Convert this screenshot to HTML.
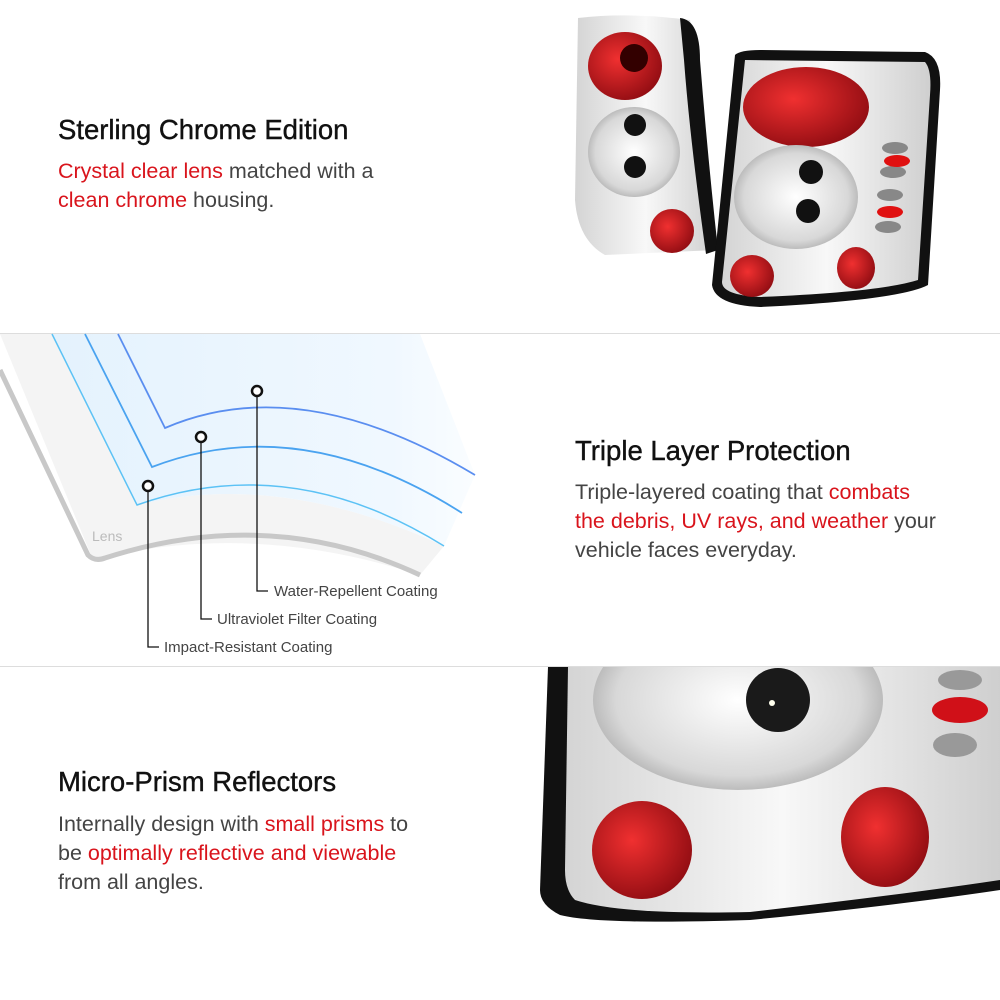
<!DOCTYPE html>
<html><head><meta charset="utf-8"><style>
html,body{margin:0;padding:0;background:#fff}
body{width:1000px;height:1000px;position:relative;overflow:hidden;font-family:"Liberation Sans",sans-serif}
.t{position:absolute;color:#111;font-size:27.5px;-webkit-text-stroke:0.4px #111}
.b{position:absolute;color:#444;font-size:21.5px;line-height:29px}
.r{color:#d9141c}
</style></head><body>
<svg width="1000" height="1000" style="position:absolute;left:0;top:0">
<defs>
<radialGradient id="red" cx="40%" cy="40%" r="70%"><stop offset="0" stop-color="#f03030"/><stop offset="1" stop-color="#8a0a10"/></radialGradient>
<radialGradient id="clr" cx="50%" cy="50%" r="60%"><stop offset="0" stop-color="#fff"/><stop offset="0.7" stop-color="#d8d8d8"/><stop offset="1" stop-color="#999"/></radialGradient>
<linearGradient id="chrome" x1="0" y1="0" x2="1" y2="0"><stop offset="0" stop-color="#d4d4d4"/><stop offset="0.5" stop-color="#f8f8f8"/><stop offset="1" stop-color="#cfcfcf"/></linearGradient>
<linearGradient id="blue" x1="0" y1="0" x2="1" y2="0"><stop offset="0" stop-color="#e4f2fd"/><stop offset="0.8" stop-color="#f0f8ff"/><stop offset="1" stop-color="#fafdff"/></linearGradient>
<clipPath id="bot"><rect x="0" y="667" width="1000" height="333"/></clipPath>
</defs>
<line x1="0" y1="333.5" x2="1000" y2="333.5" stroke="#ddd"/>
<line x1="0" y1="666.5" x2="1000" y2="666.5" stroke="#ddd"/>

<!-- left tail light -->
<path d="M578 18 Q630 12 690 20 Q705 110 716 250 L605 255 Q578 240 575 200 Z" fill="url(#chrome)"/>
<path d="M680 18 Q700 20 700 60 Q708 160 718 250 L706 254 Q690 140 684 60 Z" fill="#111"/>
<ellipse cx="625" cy="66" rx="37" ry="34" fill="url(#red)"/>
<circle cx="634" cy="58" r="14" fill="#300"/>
<ellipse cx="634" cy="152" rx="46" ry="45" fill="url(#clr)"/>
<circle cx="635" cy="125" r="11" fill="#111"/><circle cx="635" cy="167" r="11" fill="#111"/>
<circle cx="672" cy="231" r="22" fill="url(#red)"/>
<!-- right tail light -->
<path d="M735 55 Q740 50 760 50 L925 52 Q942 58 940 90 L928 285 Q900 300 760 307 Q715 305 712 285 Z" fill="#111"/>
<path d="M745 60 L925 62 Q932 70 930 95 L918 280 Q880 292 760 297 Q722 295 722 282 Z" fill="url(#chrome)"/>
<ellipse cx="806" cy="107" rx="63" ry="40" fill="url(#red)"/>
<ellipse cx="796" cy="197" rx="62" ry="52" fill="url(#clr)"/>
<circle cx="811" cy="172" r="12" fill="#111"/><circle cx="808" cy="211" r="12" fill="#111"/>
<ellipse cx="752" cy="276" rx="22" ry="21" fill="url(#red)"/>
<ellipse cx="856" cy="268" rx="19" ry="21" fill="url(#red)"/>
<g fill="#888"><ellipse cx="895" cy="148" rx="13" ry="6"/><ellipse cx="893" cy="172" rx="13" ry="6"/><ellipse cx="890" cy="195" rx="13" ry="6"/><ellipse cx="888" cy="227" rx="13" ry="6"/></g>
<g fill="#e01010"><ellipse cx="897" cy="161" rx="13" ry="6"/><ellipse cx="890" cy="212" rx="13" ry="6"/></g>

<!-- layer diagram -->
<path d="M0 334 L52 334 L137 505 Q280 470 444 546 L420 575 Q250 520 93 560 Z" fill="#f4f4f4"/>
<path d="M0 370 L88 555 Q95 562 105 558 Q270 505 420 575" fill="none" stroke="#c8c8c8" stroke-width="5"/>
<path d="M52 334 L420 334 L475 475 L444 546 Q280 470 137 505 Z" fill="url(#blue)"/>
<path d="M118 334 L165 428 Q300 370 475 475" fill="none" stroke="#5a8ef0" stroke-width="1.8"/>
<path d="M85 334 L152 467 Q300 410 462 513" fill="none" stroke="#4aa3f0" stroke-width="1.8"/>
<path d="M52 334 L137 505 Q290 450 444 546" fill="none" stroke="#5cc2f5" stroke-width="1.5"/>
<text x="92" y="541" font-size="14" fill="#bbb" font-family="Liberation Sans">Lens</text>
<g fill="none" stroke="#111" stroke-width="1.3">
<path d="M257 396 V591 H268"/><path d="M201 442 V619 H212"/><path d="M148 491 V647 H159"/>
</g>
<g fill="#fff" stroke="#111" stroke-width="2.5"><circle cx="257" cy="391" r="5"/><circle cx="201" cy="437" r="5"/><circle cx="148" cy="486" r="5"/></g>
<g font-size="15" fill="#444" font-family="Liberation Sans">
<text x="274" y="596">Water-Repellent Coating</text>
<text x="217" y="624">Ultraviolet Filter Coating</text>
<text x="164" y="652">Impact-Resistant Coating</text>
</g>

<!-- bottom tail light -->
<g clip-path="url(#bot)">
<path d="M548 667 L1000 667 L1000 890 Q900 905 750 920 Q600 925 560 915 Q540 905 540 890 Z" fill="#111"/>
<path d="M568 667 L1000 667 L1000 880 Q900 895 750 912 Q620 915 575 900 Q565 890 565 870 Z" fill="url(#chrome)"/>
<ellipse cx="738" cy="700" rx="145" ry="90" fill="url(#clr)"/>
<circle cx="778" cy="700" r="32" fill="#1a1a1a"/><circle cx="772" cy="703" r="3" fill="#ffe"/>
<ellipse cx="642" cy="850" rx="50" ry="49" fill="url(#red)"/>
<ellipse cx="885" cy="837" rx="44" ry="50" fill="url(#red)"/>
<g fill="#999"><ellipse cx="955" cy="745" rx="22" ry="12"/><ellipse cx="960" cy="680" rx="22" ry="10"/></g>
<ellipse cx="960" cy="710" rx="28" ry="13" fill="#d01018"/>
</g>
</svg>

<div class="t" style="left:58px;top:114px">Sterling Chrome Edition</div>
<div class="b" style="left:58px;top:157px"><span class="r">Crystal clear lens</span> matched with a<br><span class="r">clean chrome</span> housing.</div>

<div class="t" style="left:575px;top:435px">Triple Layer Protection</div>
<div class="b" style="left:575px;top:478px">Triple-layered coating that <span class="r">combats</span><br><span class="r">the debris, UV rays, and weather</span> your<br>vehicle faces everyday.</div>

<div class="t" style="left:58px;top:766px">Micro-Prism Reflectors</div>
<div class="b" style="left:58px;top:810px">Internally design with <span class="r">small prisms</span> to<br>be <span class="r">optimally reflective and viewable</span><br>from all angles.</div>
</body></html>
